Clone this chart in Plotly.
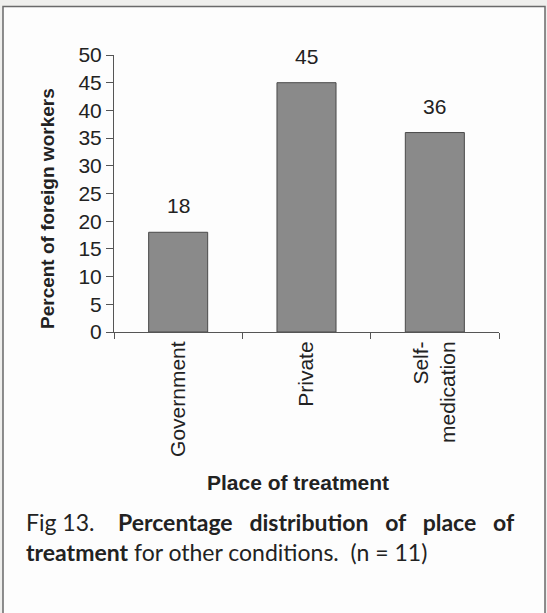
import plotly.graph_objects as go

categories = ["Government", "Private", "Self-<br>medication"]
values = [18, 45, 36]
y_ticks = [0, 5, 10, 15, 20, 25, 30, 35, 40, 45, 50]

W, H = 547, 613
L, R, T, B = 114, 48, 55, 281
pw, ph = W - L - R, H - T - B

def px_x(x):
    return (x - L) / pw

def px_y(y):
    return (H - B - y) / ph

axis_font = dict(family="Liberation Sans, Arial", size=21, color="#222")

fig = go.Figure()
fig.add_trace(go.Bar(
    x=categories, y=values,
    marker=dict(color="#8a8a8a", line=dict(color="#4a4a4a", width=1)),
    showlegend=False,
))

annotations = []
for c, v in zip(categories, values):
    annotations.append(dict(x=c, y=v, xref="x", yref="y", text=str(v),
                            showarrow=False, yanchor="bottom", yshift=13,
                            font=axis_font))

annotations.append(dict(x=px_x(298), y=px_y(482), xref="paper", yref="paper",
                        text="<b>Place of treatment</b>", showarrow=False,
                        xanchor="center", yanchor="middle",
                        font=dict(family="Liberation Sans, Arial", size=21, color="#222")))
annotations.append(dict(x=px_x(47), y=px_y(209), xref="paper", yref="paper",
                        text="<b>Percent of foreign workers</b>", showarrow=False,
                        textangle=-90, xanchor="center", yanchor="middle",
                        font=dict(family="Liberation Sans, Arial", size=19, color="#222")))

sp = "\u00a0"
cap_font = dict(family="Lato, Open Sans", size=23, color="#222")
annotations.append(dict(x=px_x(24), y=px_y(522), xref="paper", yref="paper",
                        text="Fig 13." + sp * 3 + " <b>Percentage" + sp * 2 + " distribution" + sp * 2
                             + " of" + sp * 2 + " place" + sp * 2 + " of</b>",
                        showarrow=False, xanchor="left", yanchor="middle", font=cap_font))
annotations.append(dict(x=px_x(24), y=px_y(552), xref="paper", yref="paper",
                        text="<b>treatment</b> for other conditions." + sp + " (n = 11)",
                        showarrow=False, xanchor="left", yanchor="middle", font=cap_font))

fig.update_layout(
    width=W, height=H,
    margin=dict(l=L, r=R, t=T, b=B, pad=0),
    paper_bgcolor="#efefed",
    plot_bgcolor="rgba(0,0,0,0)",
    bargap=0.54,
    annotations=annotations,
    shapes=[dict(type="rect", xref="paper", yref="paper",
                 x0=px_x(3), x1=px_x(545), y0=px_y(640), y1=px_y(6.5),
                 line=dict(color="#6a6a6a", width=1.5), fillcolor="#fdfdfd",
                 layer="below")],
    xaxis=dict(
        showline=True, linecolor="#555", linewidth=1,
        ticks="outside", ticklen=6, tickcolor="#555", tickson="boundaries",
        tickangle=-90, tickfont=axis_font, showgrid=False, zeroline=False,
    ),
    yaxis=dict(
        range=[0, 50], tickvals=y_ticks, showline=True, linecolor="#555", linewidth=1,
        ticks="outside", ticklen=7, tickcolor="#555", tickfont=axis_font,
        showgrid=False, zeroline=False,
    ),
)

fig.write_html("out.html")
